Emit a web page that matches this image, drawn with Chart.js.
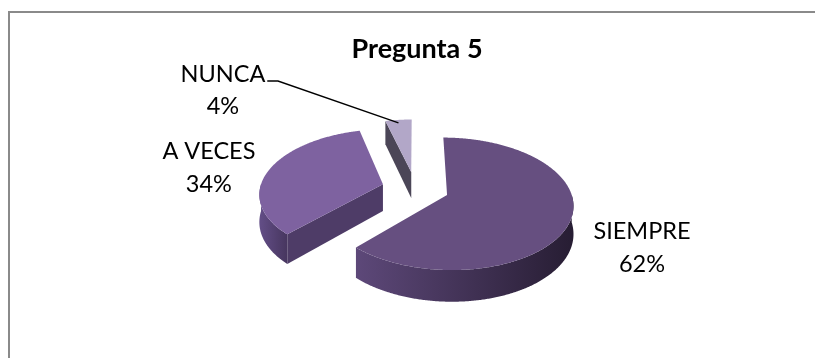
<!DOCTYPE html>
<html>
<head>
<meta charset="utf-8">
<script src="https://cdn.jsdelivr.net/npm/chart.js@4/dist/chart.umd.min.js"></script>
<style>
  html, body { margin: 0; padding: 0; background: #ffffff; }
  #wrap { width: 815px; height: 358px; }
</style>
</head>
<body>
<div id="wrap"><canvas id="c" width="815" height="358"></canvas></div>
<script>
// Survey answers and their share of responses (%)
const categories = ['SIEMPRE', 'A VECES', 'NUNCA'];
const percentages = [62, 34, 4];
const chartTitle = 'Pregunta 5';

// Face colours for each slice
const topColors  = ['#664f80', '#7e62a0', '#b2a7c8'];
const wallLight  = ['#5d4879', '#634e87', '#8a7fa0'];
const wallDark   = ['#271d33', '#47365f', '#4b4657'];
const cutColors  = ['#3a2c4e', '#4e3c67', '#4b4657'];

// 3D view settings (lengths are fractions of the pie radius)
const view = { squash: 0.515, eye: 7.58, depth: 0.22, explode: 0.274 };

// Label text placement relative to the rim point at each slice's mid angle
const labelPlacement = [
  { dx: 71.4,   dy: 18.8 },
  { dx: -60.7,  dy: -10.5 },
  { dx: -175.5, dy: -38.2, leader: [[-120.5, -38.9], [-131.2, -38.9]] }
];
const labelFont = '23.5px Lato';
const labelLineGap = 32.8;

function project(arc, u, v, drop) {
  const R = arc.outerRadius;
  const f = view.eye * R;
  const p = f / (f - v);
  return [arc.x + u * p, arc.y + (view.squash * v + drop) * p];
}

function sliceGeometry(arc) {
  const R = arc.outerRadius;
  const mid = (arc.startAngle + arc.endAngle) / 2;
  const E = view.explode * R;
  return {
    R, mid,
    a0: arc.startAngle, a1: arc.endAngle,
    cu: E * Math.cos(mid), cv: E * Math.sin(mid),
    D: view.depth * R
  };
}

function rim(g, t) {
  return [g.cu + g.R * Math.cos(t), g.cv + g.R * Math.sin(t)];
}

const pie3d = {
  id: 'pie3d',
  beforeDraw(chart) {
    const ctx = chart.ctx;
    ctx.save();
    ctx.fillStyle = '#ffffff';
    ctx.fillRect(0, 0, chart.width, chart.height);
    // chart frame (top and left edges)
    ctx.strokeStyle = '#8a8a8a';
    ctx.lineWidth = 2;
    ctx.beginPath();
    ctx.moveTo(9, chart.height + 5);
    ctx.lineTo(9, 12);
    ctx.lineTo(chart.width + 5, 12);
    ctx.stroke();
    // title
    ctx.fillStyle = '#000000';
    ctx.font = 'bold 27px Lato';
    ctx.textAlign = 'center';
    ctx.textBaseline = 'alphabetic';
    ctx.fillText(chartTitle, 417, 57.5);
    ctx.restore();
  },
  beforeDatasetsDraw(chart) {
    const ctx = chart.ctx;
    const arcs = chart.getDatasetMeta(0).data;
    const order = arcs.map((a, i) => i)
      .sort((i, j) => sliceGeometry(arcs[i]).cv - sliceGeometry(arcs[j]).cv);
    ctx.save();
    order.forEach(i => {
      const arc = arcs[i];
      const g = sliceGeometry(arc);
      const step = Math.PI / 360;

      // radial cut faces that face the viewer
      const cut = (t) => {
        const [ru, rv] = rim(g, t);
        ctx.beginPath();
        let p = project(arc, g.cu, g.cv, 0); ctx.moveTo(p[0], p[1]);
        p = project(arc, ru, rv, 0); ctx.lineTo(p[0], p[1]);
        p = project(arc, ru, rv, g.D); ctx.lineTo(p[0], p[1]);
        p = project(arc, g.cu, g.cv, g.D); ctx.lineTo(p[0], p[1]);
        ctx.closePath();
        ctx.fillStyle = cutColors[i];
        ctx.fill();
      };
      if (Math.cos(g.a0) < -1e-6) cut(g.a0);
      if (Math.cos(g.a1) > 1e-6) cut(g.a1);

      // outer wall on the front half
      const s = Math.max(g.a0, 0), e = Math.min(g.a1, Math.PI);
      if (e > s) {
        const top = [], bot = [];
        for (let t = s; t < e; t += step) {
          const [ru, rv] = rim(g, t);
          top.push(project(arc, ru, rv, 0));
          bot.push(project(arc, ru, rv, g.D));
        }
        const [eu, ev] = rim(g, e);
        top.push(project(arc, eu, ev, 0));
        bot.push(project(arc, eu, ev, g.D));
        const xs = top.map(p => p[0]);
        const x0 = Math.min(...xs), x1 = Math.max(...xs);
        const grad = ctx.createLinearGradient(x0, 0, x1, 0);
        grad.addColorStop(0, wallLight[i]);
        grad.addColorStop(1, wallDark[i]);
        ctx.beginPath();
        ctx.moveTo(top[0][0], top[0][1]);
        top.forEach(p => ctx.lineTo(p[0], p[1]));
        for (let k = bot.length - 1; k >= 0; k--) ctx.lineTo(bot[k][0], bot[k][1]);
        ctx.closePath();
        ctx.fillStyle = grad;
        ctx.fill();
      }

      // top face
      ctx.beginPath();
      let c = project(arc, g.cu, g.cv, 0);
      ctx.moveTo(c[0], c[1]);
      for (let t = g.a0; t < g.a1; t += step) {
        const [ru, rv] = rim(g, t);
        const p = project(arc, ru, rv, 0);
        ctx.lineTo(p[0], p[1]);
      }
      const [eu, ev] = rim(g, g.a1);
      const pe = project(arc, eu, ev, 0);
      ctx.lineTo(pe[0], pe[1]);
      ctx.closePath();
      ctx.fillStyle = arc.options.backgroundColor;
      ctx.fill();
    });
    ctx.restore();
    return false;
  },
  afterDraw(chart) {
    const ctx = chart.ctx;
    const arcs = chart.getDatasetMeta(0).data;
    const values = chart.data.datasets[0].data;
    ctx.save();
    ctx.fillStyle = '#000000';
    ctx.strokeStyle = '#000000';
    ctx.font = labelFont;
    ctx.textAlign = 'center';
    ctx.textBaseline = 'alphabetic';
    arcs.forEach((arc, i) => {
      const g = sliceGeometry(arc);
      const [ru, rv] = rim(g, g.mid);
      const [ax, ay] = project(arc, ru, rv, 0);
      const lp = labelPlacement[i];
      if (lp.leader) {
        ctx.lineWidth = 1.4;
        ctx.beginPath();
        ctx.moveTo(ax, ay + 3);
        lp.leader.forEach(([lx, ly]) => ctx.lineTo(ax + lx, ay + ly));
        ctx.stroke();
      }
      ctx.fillText(chart.data.labels[i], ax + lp.dx, ay + lp.dy);
      ctx.fillText(values[i] + '%', ax + lp.dx, ay + lp.dy + labelLineGap);
    });
    ctx.restore();
  }
};

new Chart(document.getElementById('c'), {
  type: 'pie',
  data: {
    labels: categories,
    datasets: [{
      data: percentages,
      backgroundColor: topColors,
      borderWidth: 0,
      hoverBorderWidth: 0,
      offset: 0,
      hoverOffset: 0
    }]
  },
  options: {
    responsive: false,
    animation: false,
    events: [],
    layout: { padding: { left: 292.3, right: 276.7, top: 65.5, bottom: 46.5 } },
    plugins: {
      legend: { display: false },
      tooltip: { enabled: false },
      title: { display: false }
    }
  },
  plugins: [pie3d]
});
</script>
</body>
</html>
